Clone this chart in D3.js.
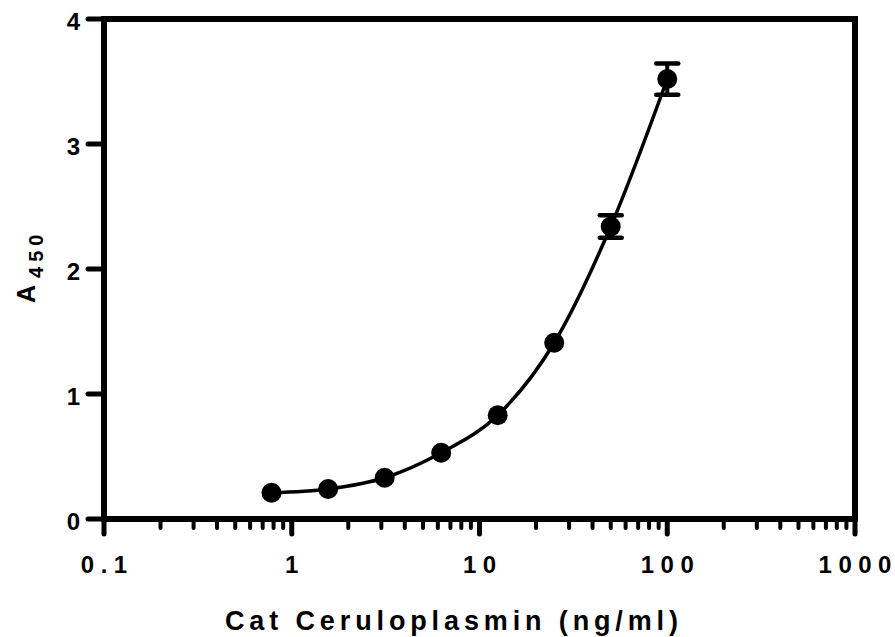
<!DOCTYPE html>
<html>
<head>
<meta charset="utf-8">
<script src="https://cdnjs.cloudflare.com/ajax/libs/d3/7.8.5/d3.min.js"></script>
<style>
  body { margin: 0; background: #fff; }
  text { font-family: "Liberation Sans", Arial, sans-serif; font-weight: bold; fill: #000; }
</style>
</head>
<body>
<div id="chart"></div>
<script>
(function() {
  var concentration = [0.78, 1.5625, 3.125, 6.25, 12.5, 25, 50, 100];
  var absorbance = [0.21, 0.24, 0.33, 0.53, 0.83, 1.41, 2.34, 3.52];
  var errors = [0, 0, 0, 0, 0, 0, 0.09, 0.125];
  var xTickValues = [0.1, 1, 10, 100, 1000];
  var xTickLabels = ['0.1', '1', '10', '100', '1000'];
  var yTickValues = [0, 1, 2, 3, 4];

  var width = 895, height = 637;
  var left = 104, right = 855, top = 19, bottom = 519;

  var svg = d3.select('#chart').append('svg')
    .attr('width', width)
    .attr('height', height);

  var x = d3.scaleLog().domain([0.1, 1000]).range([left, right]);
  var y = d3.scaleLinear().domain([0, 4]).range([bottom, top]);

  var minor = [];
  [0.1, 1, 10, 100].forEach(function(d) {
    for (var k = 2; k <= 9; k++) minor.push(d * k);
  });

  // minor x ticks
  svg.selectAll('line.minor').data(minor).enter().append('line')
    .attr('x1', function(d) { return x(d); })
    .attr('x2', function(d) { return x(d); })
    .attr('y1', bottom)
    .attr('y2', bottom + 9)
    .attr('stroke', '#000')
    .attr('stroke-width', 4)
    .attr('stroke-linecap', 'round');

  // major x ticks
  svg.selectAll('line.xmajor').data(xTickValues).enter().append('line')
    .attr('x1', function(d) { return x(d); })
    .attr('x2', function(d) { return x(d); })
    .attr('y1', bottom)
    .attr('y2', bottom + 15)
    .attr('stroke', '#000')
    .attr('stroke-width', 5)
    .attr('stroke-linecap', 'round');

  // y ticks
  svg.selectAll('line.ymajor').data(yTickValues).enter().append('line')
    .attr('x1', left)
    .attr('x2', left - 16)
    .attr('y1', function(d) { return y(d); })
    .attr('y2', function(d) { return y(d); })
    .attr('stroke', '#000')
    .attr('stroke-width', 5)
    .attr('stroke-linecap', 'round');

  // frame
  svg.append('path')
    .attr('d', 'M' + left + ',' + top + 'L' + right + ',' + top + 'L' + right + ',' + bottom + 'L' + left + ',' + bottom + 'Z')
    .attr('fill', 'none')
    .attr('stroke', '#000')
    .attr('stroke-width', 6);

  // tick labels, spaced out like the original
  svg.selectAll('text.xl').data(xTickValues).enter().append('text')
    .attr('x', function(d) { return x(d); })
    .attr('y', 573)
    .attr('font-size', 24)
    .attr('text-anchor', 'middle')
    .text(function(d, i) { return xTickLabels[i]; })
    .each(function(d, i) {
      var n = xTickLabels[i].length;
      if (n > 1) {
        var w = this.getComputedTextLength();
        d3.select(this)
          .attr('textLength', w + (n - 1) * 6.5)
          .attr('lengthAdjust', 'spacing');
      }
    });

  svg.selectAll('text.yl').data(yTickValues).enter().append('text')
    .attr('x', 80)
    .attr('y', function(d) { return y(d) + 11; })
    .attr('font-size', 24)
    .attr('text-anchor', 'end')
    .text(function(d) { return d; });

  // axis titles
  svg.append('text')
    .attr('x', 225)
    .attr('y', 630)
    .attr('font-size', 27)
    .attr('textLength', 453)
    .attr('lengthAdjust', 'spacing')
    .text('Cat Ceruloplasmin (ng/ml)');

  var yt = svg.append('text')
    .attr('transform', 'translate(35,303) rotate(-90)')
    .attr('font-size', 25);
  yt.append('tspan').text('A');
  yt.append('tspan')
    .attr('dx', 7)
    .attr('dy', 8)
    .attr('font-size', 20)
    .attr('letter-spacing', 5)
    .text('450');

  // fitted curve through points
  var line = d3.line()
    .x(function(d) { return x(d[0]); })
    .y(function(d) { return y(d[1]); })
    .curve(d3.curveMonotoneX);

  var pts = concentration.map(function(c, i) { return [c, absorbance[i], errors[i]]; });

  svg.append('path')
    .attr('d', line(pts))
    .attr('fill', 'none')
    .attr('stroke', '#000')
    .attr('stroke-width', 3.5);

  // error bars (only where they stick out of the marker)
  var withErr = pts.filter(function(d) { return d[2] > 0; });
  var eb = svg.selectAll('g.err').data(withErr).enter().append('g');
  eb.append('line')
    .attr('x1', function(d) { return x(d[0]); })
    .attr('x2', function(d) { return x(d[0]); })
    .attr('y1', function(d) { return y(d[1] + d[2]); })
    .attr('y2', function(d) { return y(d[1] - d[2]); })
    .attr('stroke', '#000')
    .attr('stroke-width', 4);
  [1, -1].forEach(function(s) {
    eb.append('line')
      .attr('x1', function(d) { return x(d[0]) - 11; })
      .attr('x2', function(d) { return x(d[0]) + 11; })
      .attr('y1', function(d) { return y(d[1] + s * d[2]); })
      .attr('y2', function(d) { return y(d[1] + s * d[2]); })
      .attr('stroke', '#000')
      .attr('stroke-width', 4.5)
      .attr('stroke-linecap', 'round');
  });

  // markers
  svg.selectAll('circle').data(pts).enter().append('circle')
    .attr('cx', function(d) { return x(d[0]); })
    .attr('cy', function(d) { return y(d[1]); })
    .attr('r', 10)
    .attr('fill', '#000');
})();
</script>
</body>
</html>
